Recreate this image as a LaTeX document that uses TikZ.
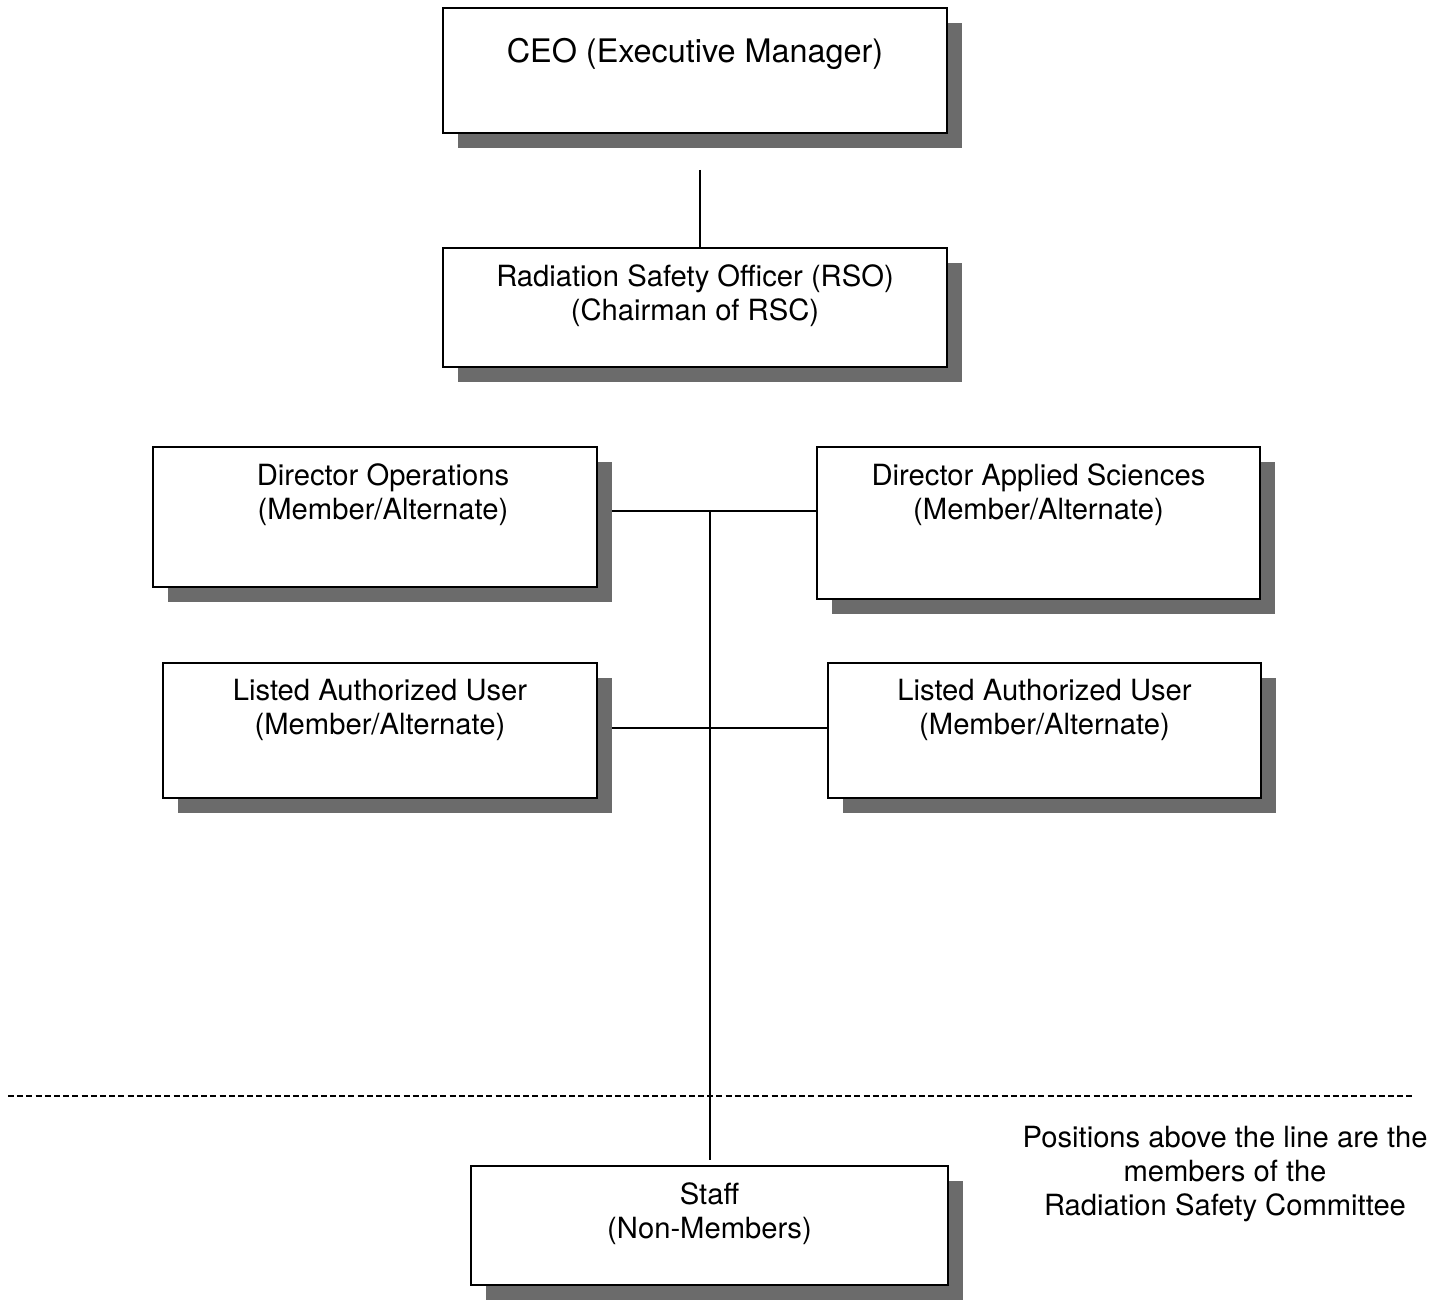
\documentclass[tikz,border=0pt]{standalone}
\usepackage{fontspec}
\setmainfont{TeX Gyre Heros}
\usetikzlibrary{shadows,backgrounds}
\begin{document}
\begin{tikzpicture}[x=0.5pt,y=-0.5pt,
  orgbox/.style={draw=black, line width=1pt, fill=white, rectangle, inner sep=0pt,
    drop shadow={shadow xshift=7.5pt, shadow yshift=-7.5pt, opacity=1, fill=black!58}},
  lbl/.style={anchor=north, align=center, inner sep=0pt, font=\fontsize{14.6}{17}\selectfont},
  conn/.style={draw=black, line width=1pt},
  sepline/.style={draw=black, line width=1pt, dash pattern=on 3pt off 1.6pt}]
\useasboundingbox (0,0) rectangle (1449,1300);
\node[orgbox, minimum width=252pt, minimum height=62.5pt,
  label={[lbl, name=ceot, yshift=-15.5pt, font=\fontsize{16.2}{19}\selectfont]north:CEO (Executive Manager)}] (ceo) at (695,70.5) {};
\node[orgbox, minimum width=252pt, minimum height=59.5pt,
  label={[lbl, name=rsot, yshift=-8.5pt]north:Radiation Safety Officer (RSO)\\(Chairman of RSC)}] (rso) at (695,307.5) {};
\node[orgbox, minimum width=222pt, minimum height=70pt,
  label={[lbl, name=dopt, yshift=-8.5pt, xshift=4pt]north:Director Operations\\(Member/Alternate)}] (dop) at (375,517) {};
\node[orgbox, minimum width=221.5pt, minimum height=76pt,
  label={[lbl, name=dast, yshift=-8.5pt]north:Director Applied Sciences\\(Member/Alternate)}] (das) at (1038.5,523) {};
\node[orgbox, minimum width=217pt, minimum height=67.5pt,
  label={[lbl, name=laulT, yshift=-8.5pt]north:Listed Authorized User\\(Member/Alternate)}] (laul) at (380,730.5) {};
\node[orgbox, minimum width=216.5pt, minimum height=67.5pt,
  label={[lbl, name=laurT, yshift=-8.5pt]north:Listed Authorized User\\(Member/Alternate)}] (laur) at (1044.5,730.5) {};
\node[orgbox, minimum width=238.5pt, minimum height=59.5pt,
  label={[lbl, name=stafft, yshift=-8.5pt]north:Staff\\(Non-Members)}] (staff) at (709.5,1225.5) {};
\node[lbl, anchor=center] (note) at (1225,1174) {Positions above the line are the\\members of the\\Radiation Safety Committee};
\coordinate (ceoline) at (700,170);
\coordinate (trunktop) at (710,511);
\coordinate (trunkmid) at (710,728);
\coordinate (trunkend) at (710,1160);
\coordinate (dashL) at (8,1096);
\coordinate (dashR) at (1415,1096);
\begin{scope}[on background layer]
\draw[conn] (ceoline) -- (ceoline |- rso.north);
\draw[conn] (dop.east |- trunktop) -- (das.west |- trunktop);
\draw[conn] (laul.east |- trunkmid) -- (laur.west |- trunkmid);
\draw[conn] (trunktop) -- (trunkend);
\end{scope}
\draw[sepline] (dashL) -- (dashR);
\end{tikzpicture}
\end{document}
